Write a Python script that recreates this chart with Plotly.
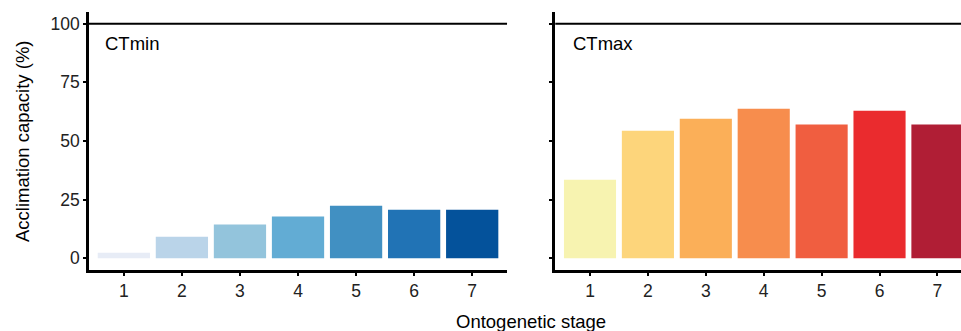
import plotly.graph_objects as go

stages = [1, 2, 3, 4, 5, 6, 7]
ctmin_values = [2.4, 9.2, 14.4, 17.8, 22.4, 20.7, 20.7]
ctmax_values = [33.5, 54.4, 59.5, 63.8, 57.0, 62.9, 57.0]
ctmin_colors = ["#E7ECF6", "#BAD4E9", "#93C4DC", "#62ACD4", "#4190C2", "#2173B5", "#04529B"]
ctmax_colors = ["#F7F3B0", "#FDD57B", "#FBAF58", "#F78D4D", "#F05E40", "#EA2B2E", "#B01E35"]
y_ticks = [0, 25, 50, 75, 100]
panel_labels = ["CTmin", "CTmax"]

FONT = "Liberation Sans, Arial, sans-serif"

fig = go.Figure()
fig.add_trace(go.Bar(x=stages, y=ctmin_values, marker=dict(color=ctmin_colors, line=dict(width=0)),
                     width=0.9, xaxis="x", yaxis="y", showlegend=False))
fig.add_trace(go.Bar(x=stages, y=ctmax_values, marker=dict(color=ctmax_colors, line=dict(width=0)),
                     width=0.9, xaxis="x2", yaxis="y2", showlegend=False))

axis_common = dict(showgrid=False, zeroline=False, showline=True, linecolor="black", linewidth=2.7,
                   ticks="outside", ticklen=3, tickwidth=2, tickcolor="black",
                   tickfont=dict(family=FONT, size=17.5, color="#222222"))

fig.update_layout(
    width=961, height=331,
    margin=dict(l=89, r=0, t=12, b=61),
    plot_bgcolor="white", paper_bgcolor="white",
    xaxis=dict(domain=[0, 0.4794], range=[0.4, 7.6], tickvals=stages, anchor="y", **axis_common),
    xaxis2=dict(domain=[0.5347, 1.0], range=[0.4, 7.407], tickvals=stages, anchor="y2", **axis_common),
    yaxis=dict(range=[-5, 105], tickvals=y_ticks, anchor="x", **axis_common),
    yaxis2=dict(range=[-5, 105], tickvals=y_ticks, anchor="x2", showticklabels=False, **axis_common),
    bargap=0.1,
)

for i, (xr, yr, xd) in enumerate([("x", "y", 0.033), ("x2", "y2", 0.038)]):
    fig.add_shape(type="line", xref=f"{xr} domain", yref=yr, x0=0, x1=1, y0=100, y1=100,
                  line=dict(color="black", width=2.2))
    fig.add_annotation(text=panel_labels[i], xref=f"{xr} domain", yref=yr, x=xd, y=91.4,
                       xanchor="left", yanchor="middle", showarrow=False,
                       font=dict(family=FONT, size=18.5, color="black"))

# axis titles
fig.add_annotation(text="Ontogenetic stage", xref="paper", yref="paper", x=(531 - 89) / 872, y=-51 / 258,
                   xanchor="center", yanchor="middle", showarrow=False,
                   font=dict(family=FONT, size=18.5, color="black"))
fig.add_annotation(text="Acclimation capacity (%)", xref="paper", yref="paper", x=(22 - 89) / 872,
                   y=(270 - 141) / 258, textangle=-90, xanchor="center", yanchor="middle", showarrow=False,
                   font=dict(family=FONT, size=18.5, color="black"))

fig.write_html("out.html", config={"displayModeBar": False},
               post_script="document.body.style.margin='0';document.body.style.padding='0';")
